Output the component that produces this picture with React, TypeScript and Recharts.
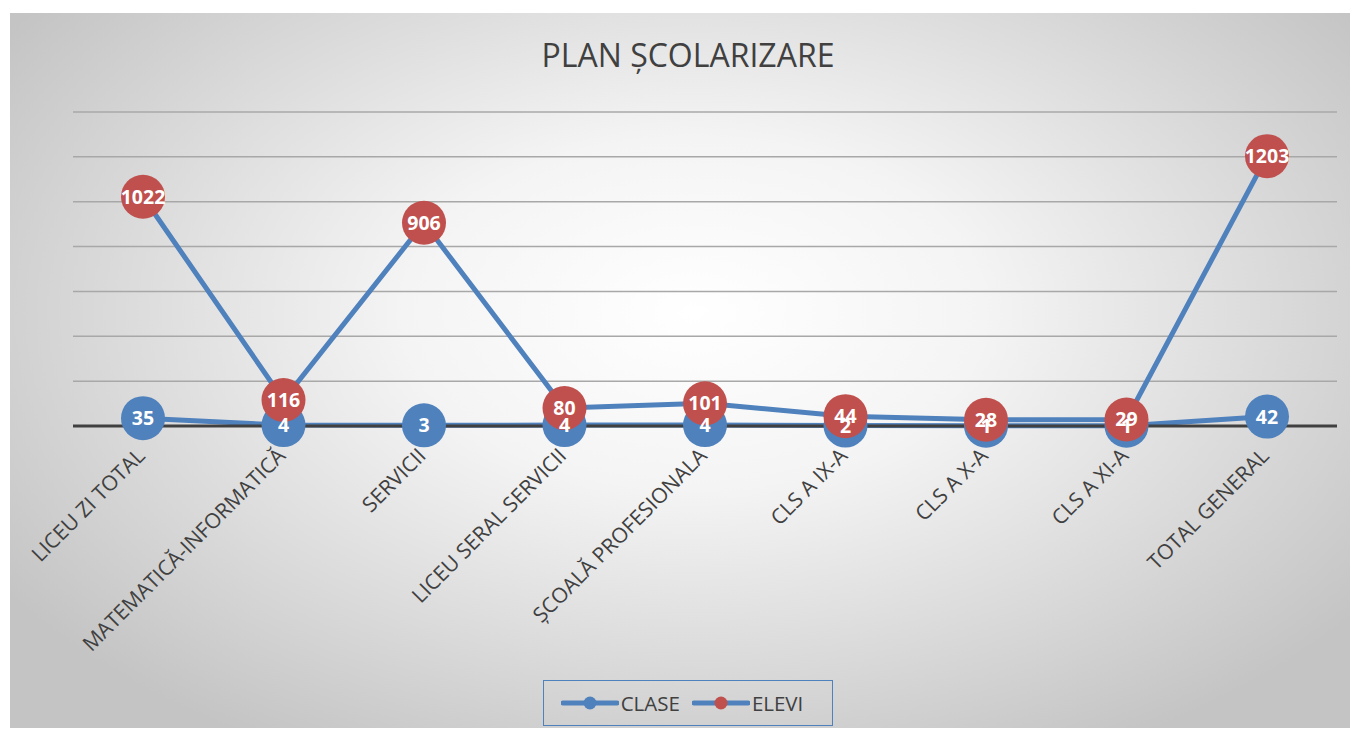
import React from "react";
import { LineChart, Line, XAxis, YAxis, CartesianGrid } from "recharts";

const categories = [
  "LICEU ZI TOTAL",
  "MATEMATICĂ-INFORMATICĂ",
  "SERVICII",
  "LICEU SERAL SERVICII",
  "ȘCOALĂ PROFESIONALA",
  "CLS A IX-A",
  "CLS A X-A",
  "CLS A XI-A",
  "TOTAL GENERAL",
];
const clase = [35, 4, 3, 4, 4, 2, 1, 1, 42];
const elevi = [1022, 116, 906, 80, 101, 44, 28, 29, 1203];
const yTicks = [0, 200, 400, 600, 800, 1000, 1200, 1400];

const data = categories.map((name, i) => ({ name, clase: clase[i], elevi: elevi[i] }));

const BLUE = "#4F81BD";
const RED = "#C0504D";
const TEXT = "#404040";
const FONT = "'Open Sans', 'DejaVu Sans', sans-serif";

const makeDot = (fill: string) => (props: any) => {
  const { cx, cy, index } = props;
  if (cx == null || cy == null) return <g key={index} />;
  return <circle key={index} cx={cx} cy={cy} r={22} fill={fill} />;
};

const renderLabel = (props: any) => {
  const { x, y, value, index } = props;
  return (
    <text
      key={index}
      x={x}
      y={y}
      dy={7}
      textAnchor="middle"
      fill="#fff"
      fontSize={19.5}
      fontWeight={700}
      fontFamily={FONT}
    >
      {value}
    </text>
  );
};

const AxisTick = (props: any) => {
  const { x, y, payload } = props;
  return (
    <g transform={`translate(${x - 2},${y + 18}) rotate(-45)`}>
      <text x={0} y={0} dy="0.35em" textAnchor="end" fill={TEXT} fontSize={21} fontFamily={FONT}>
        {payload.value}
      </text>
    </g>
  );
};

const LegendItem = ({ color, label }: { color: string; label: string }) => (
  <div style={{ display: "flex", alignItems: "center", marginRight: 12 }}>
    <svg width={58} height={14}>
      <line x1={2} y1={7} x2={56} y2={7} stroke={BLUE} strokeWidth={5} strokeLinecap="round" />
      <circle cx={29} cy={7} r={6.5} fill={color} />
    </svg>
    <span style={{ fontSize: 20.5, color: TEXT, marginLeft: 2 }}>{label}</span>
  </div>
);

export default function App() {
  return (
    <div style={{ position: "absolute", left: 0, top: 0, width: 1354, height: 731, background: "#fff", fontFamily: FONT }}>
      <div
        style={{
          position: "absolute",
          left: 10,
          top: 13,
          width: 1340,
          height: 715,
          background: "radial-gradient(ellipse 62% 70% at 51% 42%, #ffffff 0%, #f4f4f4 35%, #c4c4c4 100%)",
        }}
      />
      <div
        style={{
          position: "absolute",
          left: 0,
          top: 33,
          width: 1376,
          textAlign: "center",
          fontSize: 32,
          color: TEXT,
        }}
      >
        PLAN ȘCOLARIZARE
      </div>
      <div style={{ position: "absolute", left: 0, top: 0 }}>
        <LineChart width={1354} height={731} data={data} margin={{ top: 112, right: 17, bottom: 205, left: 73 }}>
          <CartesianGrid vertical={false} stroke="#a8a8a8" strokeWidth={1.5} />
          <YAxis hide domain={[0, 1400]} ticks={yTicks} />
          <XAxis
            dataKey="name"
            axisLine={{ stroke: TEXT, strokeWidth: 3 }}
            tickLine={false}
            interval={0}
            height={100}
            padding={{ left: 70, right: 70 }}
            tick={<AxisTick />}
          />
          <Line
            dataKey="clase"
            stroke={BLUE}
            strokeWidth={5}
            dot={makeDot(BLUE)}
            activeDot={false}
            isAnimationActive={false}
          />
          <Line
            dataKey="elevi"
            stroke={BLUE}
            strokeWidth={5}
            dot={makeDot(RED)}
            activeDot={false}
            isAnimationActive={false}
          />
          <Line
            dataKey="elevi"
            stroke="none"
            dot={false}
            activeDot={false}
            legendType="none"
            label={renderLabel}
            isAnimationActive={false}
          />
          <Line
            dataKey="clase"
            stroke="none"
            dot={false}
            activeDot={false}
            legendType="none"
            label={renderLabel}
            isAnimationActive={false}
          />
        </LineChart>
      </div>
      <div
        style={{
          position: "absolute",
          left: 543,
          top: 680,
          width: 290,
          height: 46,
          border: `1.5px solid ${BLUE}`,
          display: "flex",
          alignItems: "center",
          justifyContent: "center",
          boxSizing: "border-box",
        }}
      >
        <LegendItem color={BLUE} label="CLASE" />
        <LegendItem color={RED} label="ELEVI" />
      </div>
    </div>
  );
}
